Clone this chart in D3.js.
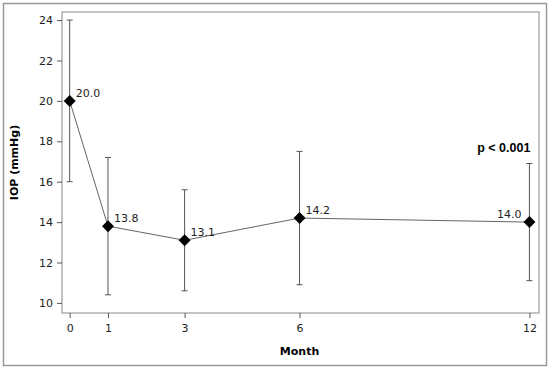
<!DOCTYPE html>
<html>
<head>
<meta charset="utf-8">
<style>
  body { margin: 0; background: #fff; }
  .tick text { font-family: "DejaVu Sans", Verdana, sans-serif; font-size: 11px; fill: #222; }
  .axis path { display: none; }
  .axis line { stroke: #555; }
</style>
</head>
<body>
<svg width="550" height="369"></svg>
<script src="https://cdn.jsdelivr.net/npm/d3@7"></script>
<script>
  var months = [0, 1, 3, 6, 12];
  var means = [20.0, 13.8, 13.1, 14.2, 14.0];
  var sds = [4.0, 3.4, 2.5, 3.3, 2.9];
  var yTicks = [10, 12, 14, 16, 18, 20, 22, 24];

  var svg = d3.select("svg");
  var margin = {top: 12, right: 11, bottom: 56, left: 62};
  var width = 550 - margin.left - margin.right,
    height = 369 - margin.top - margin.bottom;

  // outer border
  svg.append("rect")
    .attr("x", 3.5).attr("y", 3.5)
    .attr("width", 543).attr("height", 362)
    .attr("fill", "none").attr("stroke", "#999").attr("stroke-width", 1.5);

  var x = d3.scaleLinear().domain([-0.2, 12.25]).range([0, width]);
  var y = d3.scaleLinear().domain([9.5, 24.4]).range([height, 0]);

  var g = svg.append("g")
    .attr("transform", "translate(" + margin.left + "," + margin.top + ")");

  g.append("rect")
    .attr("width", width).attr("height", height)
    .attr("fill", "none").attr("stroke", "#888").attr("stroke-width", 1);

  g.append("g")
    .attr("class", "axis")
    .attr("transform", "translate(0," + height + ")")
    .call(d3.axisBottom(x).tickValues(months).tickSize(5).tickPadding(6));

  g.append("g")
    .attr("class", "axis")
    .call(d3.axisLeft(y).tickValues(yTicks).tickSize(5).tickPadding(4));

  g.append("text")
    .attr("x", x(6)).attr("y", height + 42)
    .attr("text-anchor", "middle")
    .style("font-family", "DejaVu Sans, sans-serif").style("font-size", "11px").style("font-weight", "bold")
    .text("Month");

  g.append("text")
    .attr("transform", "translate(-44," + (height / 2) + ") rotate(-90)")
    .attr("text-anchor", "middle")
    .style("font-family", "DejaVu Sans, sans-serif").style("font-size", "11px").style("font-weight", "bold")
    .text("IOP (mmHg)");

  var data = months.map(function(m, i) {
    return {m: m, mean: means[i], sd: sds[i]};
  });

  // error bars
  var eb = g.selectAll(".eb").data(data).enter().append("g").attr("class", "eb");
  eb.append("line")
    .attr("x1", function(d) { return x(d.m); })
    .attr("x2", function(d) { return x(d.m); })
    .attr("y1", function(d) { return y(d.mean + d.sd); })
    .attr("y2", function(d) { return y(d.mean - d.sd); })
    .attr("stroke", "#555");
  [1, -1].forEach(function(s) {
    eb.append("line")
      .attr("x1", function(d) { return x(d.m) - 3; })
      .attr("x2", function(d) { return x(d.m) + 3; })
      .attr("y1", function(d) { return y(d.mean + s * d.sd); })
      .attr("y2", function(d) { return y(d.mean + s * d.sd); })
      .attr("stroke", "#555");
  });

  g.append("path")
    .datum(data)
    .attr("fill", "none")
    .attr("stroke", "#666")
    .attr("stroke-width", 1)
    .attr("d", d3.line().x(function(d) { return x(d.m); }).y(function(d) { return y(d.mean); }));

  g.selectAll(".pt").data(data).enter().append("path")
    .attr("transform", function(d) { return "translate(" + x(d.m) + "," + y(d.mean) + ")"; })
    .attr("d", "M0,-6L6,0L0,6L-6,0Z")
    .attr("fill", "#000");

  g.selectAll(".lbl").data(data).enter().append("text")
    .attr("x", function(d, i) { return i === data.length - 1 ? x(d.m) - 8 : x(d.m) + 6; })
    .attr("y", function(d) { return y(d.mean) - 4; })
    .attr("text-anchor", function(d, i) { return i === data.length - 1 ? "end" : "start"; })
    .style("font-family", "DejaVu Sans, sans-serif").style("font-size", "11px").style("fill", "#222")
    .text(function(d) { return d.mean.toFixed(1); });

  g.append("text")
    .attr("x", x(12) + 1).attr("y", y(17.45))
    .attr("text-anchor", "end")
    .style("font-family", "Liberation Sans, Arial, sans-serif").style("font-size", "12.5px").style("font-weight", "bold")
    .text("p < 0.001");
</script>
</body>
</html>
